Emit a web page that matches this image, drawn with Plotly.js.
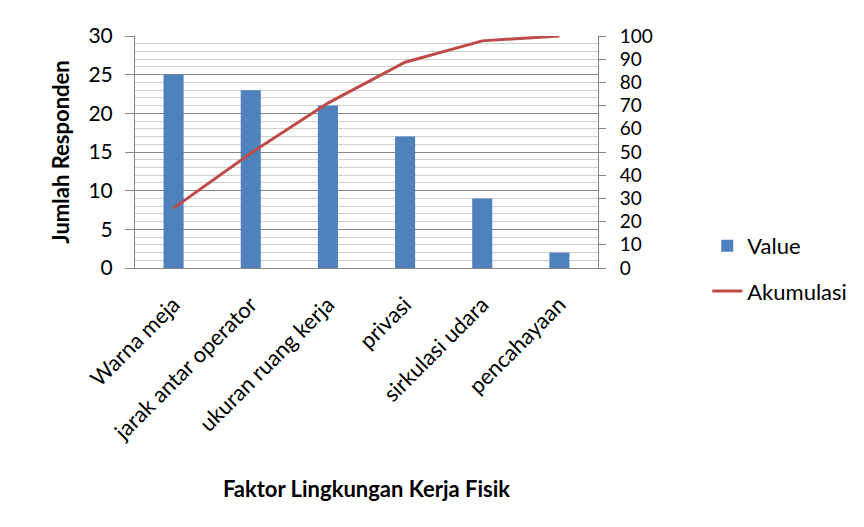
<!DOCTYPE html>
<html><head><meta charset="utf-8">
<script src="https://cdn.plot.ly/plotly-3.0.1.min.js"></script>
<style>html,body{margin:0;padding:0;background:#fff}#c{width:864px;height:527px}</style>
</head><body><div id="c"></div>
<script>
const categories = ["Warna meja","jarak antar operator","ukuran ruang kerja","privasi","sirkulasi udara","pencahayaan"];
const values = [25, 23, 21, 17, 9, 2];
const akumulasi = [25.8, 49.5, 71.1, 88.7, 97.9, 100];
const leftTicks = [0,5,10,15,20,25,30];
const rightTicks = [0,10,20,30,40,50,60,70,80,90,100];

const F = "Lato, 'Open Sans', sans-serif";
const traces = [
  {type:"bar", name:"Value", x:categories, y:values, marker:{color:"#4f81bd"}, legend:"legend"},
  {type:"scatter", mode:"lines", name:"Akumulasi", x:categories, y:akumulasi, yaxis:"y2",
   line:{color:"#be4b48", width:3}, legend:"legend2"}
];
const layout = {
  width:864, height:527,
  margin:{l:135, r:263, t:36, b:259},
  paper_bgcolor:"#fff", plot_bgcolor:"#fff",
  bargap:0.74,
  font:{family:F, color:"#000"},
  xaxis:{tickangle:-45, tickfont:{size:22, family:F}, showline:true, linecolor:"#868686",
    ticks:"", ticklabelstandoff:14,
    title:{text:"<b>Faktor Lingkungan Kerja Fisik</b>", font:{size:22, family:F}, standoff:37},
    automargin:false},
  yaxis:{range:[0,30], tickvals:leftTicks, ticks:"outside", ticklen:9, tickcolor:"#868686",
    showline:true, linecolor:"#868686", gridcolor:"#868686", gridwidth:1,
    minor:{dtick:1, showgrid:true, gridcolor:"#d0d0d0", ticks:""},
    tickfont:{size:21, family:F}, zeroline:false, ticklabelstandoff:8,
    title:{text:"<b>Jumlah Responden</b>", font:{size:22, family:F}, standoff:12}, automargin:false},
  yaxis2:{range:[0,100], tickvals:rightTicks, overlaying:"y", side:"right", showgrid:false,
    ticks:"outside", ticklen:7, tickcolor:"#868686", showline:true, linecolor:"#868686",
    tickfont:{size:19, family:F}, zeroline:false, automargin:false, ticklabelstandoff:10},
  legend:{x:1.236, y:0.095, xanchor:"left", yanchor:"middle", font:{size:22, family:F}, bgcolor:"rgba(0,0,0,0)"},
  legend2:{x:1.236, y:-0.1, xanchor:"left", yanchor:"middle", font:{size:22, family:F}, bgcolor:"rgba(0,0,0,0)"},
  showlegend:true
};
Plotly.newPlot("c", traces, layout, {displayModeBar:false, staticPlot:true});
</script></body></html>
